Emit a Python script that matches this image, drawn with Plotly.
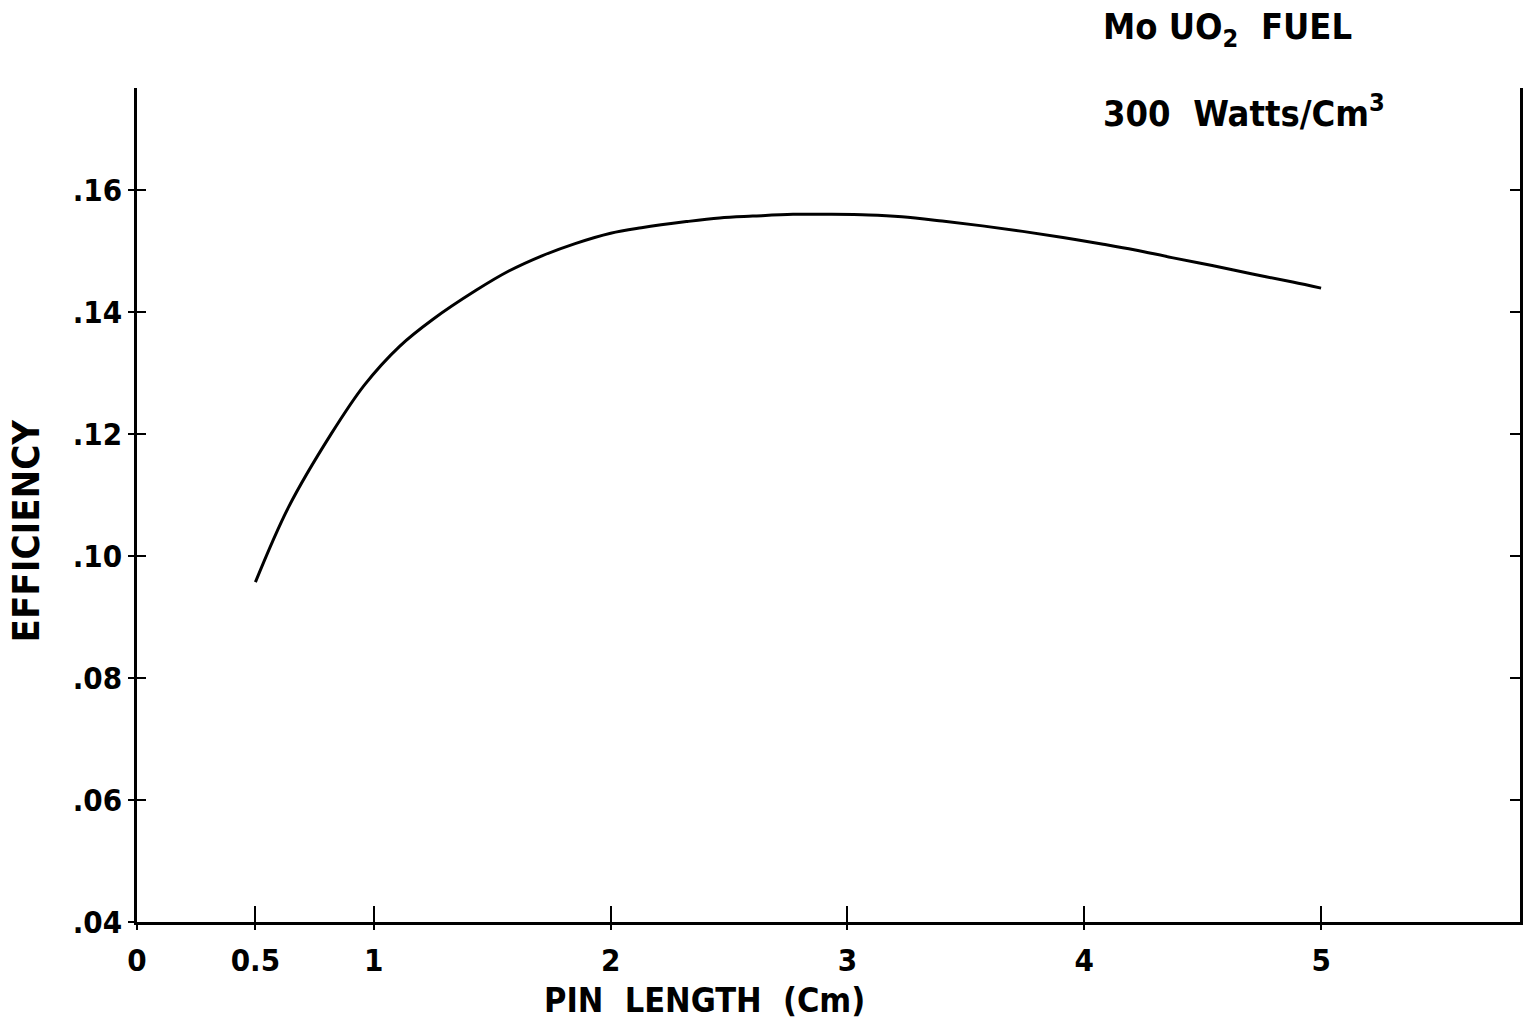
import plotly.graph_objects as go

# Data
pin_length = [0.50, 0.64, 0.82, 0.96, 1.11, 1.25, 1.43, 1.57, 1.71, 1.85,
              2.00, 2.13, 2.32, 2.46, 2.60, 2.77, 2.91, 3.09, 3.23, 3.40, 3.57, 3.74,
              3.91, 4.08, 4.21, 4.37, 4.54, 4.71, 4.88, 5.00]
efficiency = [0.0957, 0.1080, 0.1200, 0.1280, 0.1344, 0.1388, 0.1435,
              0.1467, 0.1492, 0.1512, 0.1529, 0.1538, 0.1548, 0.1554, 0.1557, 0.1560,
              0.1560, 0.1559, 0.1556, 0.1549, 0.1541, 0.1532, 0.1522, 0.1511, 0.1502,
              0.1489, 0.1476, 0.1462, 0.1449, 0.1439]

x_tickvals = [0, 0.5, 1, 2, 3, 4, 5]
x_ticktext = ["0", "0.5", "1", "2", "3", "4", "5"]
y_tickvals = [0.04, 0.06, 0.08, 0.10, 0.12, 0.14, 0.16]
y_ticktext = [".04", ".06", ".08", ".10", ".12", ".14", ".16"]

x_range = [0, 5.84]
y_range = [0.04, 0.1767]

FONT = "DejaVu Sans Condensed, DejaVu Sans"

fig = go.Figure()
fig.add_trace(go.Scatter(x=pin_length, y=efficiency, mode="lines",
                         line=dict(color="black", width=3, shape="spline", smoothing=1.0),
                         showlegend=False, hoverinfo="skip"))

fig.update_layout(
    width=1528, height=1023,
    margin=dict(l=137, r=8, t=88, b=101),
    paper_bgcolor="white", plot_bgcolor="white",
    font=dict(family=FONT, color="black"),
    xaxis=dict(range=x_range, tickvals=x_tickvals, ticktext=x_ticktext,
               showgrid=False, zeroline=False, showline=True, linecolor="black",
               linewidth=2.5, ticks="outside", ticklen=5, tickwidth=2,
               tickcolor="black", tickfont=dict(size=31, family=FONT, weight="bold"),
               ticklabelstandoff=4),
    xaxis2=dict(range=x_range, overlaying="x", anchor="y", side="bottom",
                tickvals=x_tickvals[1:], showticklabels=False, showgrid=False,
                zeroline=False, showline=False, ticks="inside", ticklen=16,
                tickwidth=2, tickcolor="black"),
    yaxis=dict(range=y_range, tickvals=y_tickvals, ticktext=y_ticktext,
               showgrid=False, zeroline=False, showline=True, linecolor="black",
               linewidth=2.5, ticks="outside", ticklen=6, tickwidth=2,
               tickcolor="black", tickfont=dict(size=31, family=FONT, weight="bold"),
               ticklabelstandoff=0),
    yaxis2=dict(range=y_range, overlaying="y", anchor="x", side="right",
                tickvals=y_tickvals[1:], showticklabels=False, showgrid=False,
                zeroline=False, showline=True, linecolor="black", linewidth=2.5,
                ticks="inside", ticklen=10, tickwidth=2, tickcolor="black"),
    yaxis3=dict(range=y_range, overlaying="y", anchor="x", side="left",
                tickvals=y_tickvals[1:], showticklabels=False, showgrid=False,
                zeroline=False, showline=False, ticks="inside", ticklen=9,
                tickwidth=2, tickcolor="black"),
)

# invisible traces to activate overlay axes
fig.add_trace(go.Scatter(x=[None], y=[None], xaxis="x2", yaxis="y", showlegend=False))
fig.add_trace(go.Scatter(x=[None], y=[None], xaxis="x", yaxis="y2", showlegend=False))
fig.add_trace(go.Scatter(x=[None], y=[None], xaxis="x", yaxis="y3", showlegend=False))

fig.add_annotation(text="PIN  LENGTH  (Cm)", xref="paper", yref="paper",
                   x=0.41, y=-0.094, xanchor="center", yanchor="middle",
                   showarrow=False, font=dict(size=34, family=FONT, weight="bold"))
fig.add_annotation(text="EFFICIENCY", xref="paper", yref="paper",
                   x=-0.080, y=0.47, xanchor="center", yanchor="middle",
                   textangle=-90, showarrow=False, font=dict(size=38, family=FONT, weight="bold"))
fig.add_annotation(text="Mo UO<sub>2</sub>  FUEL", xref="paper", yref="paper",
                   x=0.697, y=1.07, xanchor="left", yanchor="middle",
                   showarrow=False, font=dict(size=36, family=FONT, weight="bold"))
fig.add_annotation(text="300  Watts/Cm<sup>3</sup>", xref="paper", yref="paper",
                   x=0.697, y=0.972, xanchor="left", yanchor="middle",
                   showarrow=False, font=dict(size=36, family=FONT, weight="bold"))

fig.write_html("out.html", config={"displayModeBar": False},
               post_script="document.body.style.margin='0';document.body.style.overflow='hidden';")
